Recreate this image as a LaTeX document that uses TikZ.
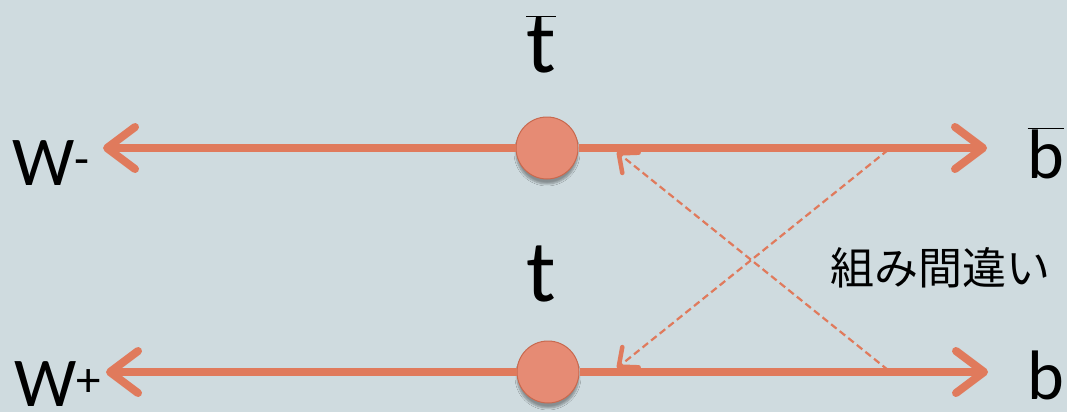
\documentclass[tikz,border=0pt]{standalone}
\usepackage{fontspec}
\setmainfont{Carlito}
\newfontfamily\jpfont{Noto Sans CJK JP}
\usetikzlibrary{arrows.meta,shadows.blur}
\definecolor{bg}{HTML}{CFDBDF}
\definecolor{ln}{HTML}{E07A5C}
\definecolor{cfill}{HTML}{E68B74}
\definecolor{cedge}{HTML}{C8694F}
\begin{document}
\begin{tikzpicture}[x=1pt,y=-1pt,
  mainarrow/.style={draw=ln,line width=8pt,-{Straight Barb[round,length=28pt,width=42pt]}},
  mixarrow/.style={draw=ln,line width=2.2pt,dash pattern=on 7pt off 4pt,-{Straight Barb[round,length=15pt,width=26pt,line width=4.5pt]}},
  vertex/.style={circle,fill=cfill,draw=cedge,line width=1pt,minimum size=62pt,inner sep=0pt,
    blur shadow={shadow xshift=0pt,shadow yshift=-5pt,shadow blur steps=6,shadow opacity=35}},
  lbl/.style={font=\fontsize{70}{84}\selectfont,inner sep=0pt,text=black},
  tlbl/.style={font=\fontsize{88}{100}\selectfont,inner sep=0pt,text=black}]
\fill[bg] (0,0) rectangle (1067,412);
\useasboundingbox (0,0) rectangle (1067,412);
% labels
\node[lbl,anchor=base west] (wm) at (12,185) {W\textsuperscript{-}};
\node[lbl,anchor=base west] (wp) at (14,406) {W\textsuperscript{+}};
\node[tlbl,anchor=base] (tbar) at (541,73) {$\overline{\hbox{t}}$};
\node[tlbl,anchor=base] (t) at (541,301) {t};
\node[lbl,anchor=base] (bbar) at (1046,178) {$\overline{\hbox{b}}$};
\node[lbl,anchor=base] (b) at (1046,399) {b};
\node[anchor=base west,inner sep=0pt,font=\jpfont\fontsize{44}{50}\selectfont] (mis) at (830,284) {組み間違い};
% vertices
\node[vertex] (top) at (547,148) {};
\node[vertex] (bot) at (548,372) {};
% tips
\coordinate (tl) at (103,148);
\coordinate (tr) at (987,148);
\coordinate (bl) at (106,372);
\coordinate (br) at (988,372);
\draw[mainarrow] (top) -- (tl);
\draw[mainarrow] (top) -- (tr);
\draw[mainarrow] (bot) -- (bl);
\draw[mainarrow] (bot) -- (br);
% wrong pairing
\coordinate (ds1) at (888,150);
\coordinate (de1) at (617,368);
\coordinate (ds2) at (888,370);
\coordinate (de2) at (617,152);
\draw[mixarrow] (ds1) -- (de1);
\draw[mixarrow] (ds2) -- (de2);
\end{tikzpicture}
\end{document}
